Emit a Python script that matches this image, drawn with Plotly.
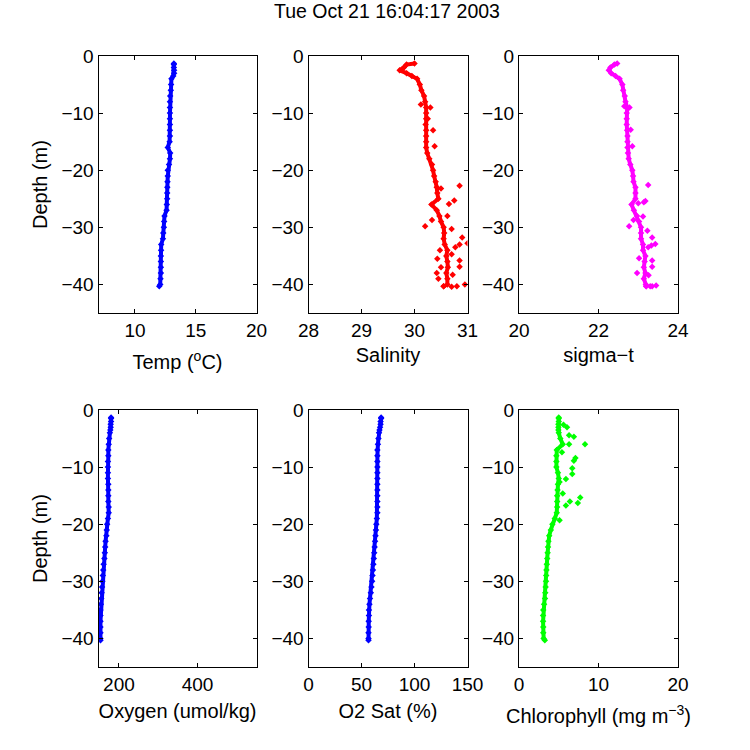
import plotly.graph_objects as go

TITLE = "Tue Oct 21 16:04:17 2003"
DEPTH = [-1.3, -1.5, -2, -2.5, -3, -3.5, -4, -5, -6, -7, -8, -9, -10, -11, -12, -13, -14, -15, -16, -17, -18, -19, -20,
         -21, -22, -23, -24, -25, -26, -27, -28, -29, -30, -31, -32, -33, -34, -35, -36, -37, -38, -39, -40, -40.3]

TEMP = [13.2, 13.2, 13.2, 13.22, 13.22, 13.15, 13.0, 12.97, 12.95, 12.9, 12.88, 12.88, 12.88, 12.88, 12.88, 12.88, 12.88, 12.85,
        12.7, 12.9, 12.88, 12.8, 12.7, 12.7, 12.68, 12.66, 12.65, 12.65, 12.62, 12.6, 12.43, 12.4, 12.38, 12.33, 12.3, 12.16,
        12.15, 12.13, 12.13, 12.13, 12.13, 12.1, 12.08, 12.0]
SALINITY = [30.0, 29.85, 29.8, 29.72, 29.85, 29.95, 30.05, 30.1, 30.13, 30.18, 30.2, 30.22, 30.22, 30.22, 30.21, 30.22, 30.22,
            30.22, 30.22, 30.24, 30.28, 30.33, 30.35, 30.37, 30.4, 30.42, 30.43, 30.45, 30.32, 30.42, 30.47, 30.5, 30.55,
            30.56, 30.55, 30.57, 30.62, 30.6, 30.62, 30.63, 30.6, 30.62, 30.62, 30.55]
SIGMA = [22.47, 22.4, 22.3, 22.26, 22.32, 22.43, 22.53, 22.6, 22.62, 22.66, 22.68, 22.72, 22.71, 22.71, 22.71, 22.72, 22.73,
         22.73, 22.73, 22.74, 22.76, 22.8, 22.85, 22.87, 22.88, 22.93, 22.93, 22.93, 22.83, 22.89, 22.97, 23.02, 23.07,
         23.07, 23.07, 23.12, 23.12, 23.18, 23.16, 23.14, 23.18, 23.14, 23.19, 23.2]
OXYGEN = [180, 180, 180, 179, 179, 178, 177, 175, 174, 173, 173, 172, 172, 172, 172, 173, 173, 173, 173, 174, 174, 172, 170,
          169, 168, 166, 165, 164, 163, 161, 160, 159, 158, 157, 156, 155, 154, 153, 153, 153, 153, 153, 153, 153]
O2SAT = [68.5, 68.5, 68, 68, 67.5, 67, 66.5, 66, 65.5, 65, 65, 65, 65, 65, 65, 65, 65, 65, 65, 65, 65, 64.5, 64, 63.6, 63.2,
         62.8, 62.4, 62, 61.6, 61.2, 60.8, 60.4, 60, 59.4, 58.8, 58, 57.5, 57, 57, 56.8, 56.8, 56.6, 56.6, 56.6]
CHL = [5.0, 5.0, 5.0, 4.95, 4.95, 4.95, 5.0, 5.2, 5.5, 4.75, 4.7, 4.7, 4.7, 4.9, 5.0, 4.9, 4.85, 4.8, 4.8, 4.8, 4.75, 4.5, 4.2,
       4.0, 3.8, 3.7, 3.65, 3.6, 3.55, 3.5, 3.45, 3.42, 3.4, 3.35, 3.3, 3.27, 3.15, 3.05, 3.03, 3.03, 3.05, 3.05, 3.1, 3.25]

SAL_OUT_DEPTH = [-22.7, -25.3, -25.9, -23.2, -29.8, -28.7, -28, -30.3, -31.8, -32.8, -33, -33.5, -34, -34.7, -35.5, -35.8,
                 -36.9, -37, -38, -38.3, -39, -40.3, -40.4, -40.3, -40, -13, -15.8, -9, -8.5, -11]
SAL_OUT = [30.85, 30.75, 30.65, 30.5, 30.2, 30.33, 30.62, 30.7, 30.9, 31.0, 30.85, 30.77, 30.48, 30.7, 30.43, 30.85,
           30.85, 30.5, 30.42, 30.72, 30.45, 30.55, 30.7, 30.8, 30.95, 30.35, 30.38, 30.3, 30.12, 30.25]
SIG_OUT_DEPTH = [-22.6, -25.4, -25.6, -25.8, -29.8, -28.7, -28.1, -30.6, -31.8, -32.9, -33.2, -33.5, -35.4, -35.8, -36.9,
                 -38, -38.4, -12.9, -15.8, -9, -8.8, -40.3, -40.3, -40.3, -40.2]
SIG_OUT = [23.25, 23.18, 23.14, 23.0, 22.77, 22.88, 23.12, 23.23, 23.35, 23.43, 23.33, 23.25, 23.02, 23.35, 23.35,
           22.97, 23.26, 22.81, 22.85, 22.78, 22.65, 23.2, 23.3, 23.35, 23.45]
CHL_OUT_DEPTH = [-3, -2.6, -4.4, -4.7, -6, -6, -7.4, -8.4, -8.9, -10.2, -11.2, -12.1, -12.6, -14.6, -15.3, -16, -16.3, -16.7, -19.3]
CHL_OUT = [6.04, 5.6, 6.3, 6.9, 6.3, 8.3, 5.4, 7.1, 6.9, 6.7, 6.7, 5.9, 5.1, 5.5, 7.7, 6.4, 7.4, 5.9, 5.1]

PANELS = [
    dict(v=TEMP, c="#0000ff", xr=[7, 20], tv=[10, 15, 20], t="Temp (<sup>o</sup>C)", od=[], ov=[], so=15),
    dict(v=SALINITY, c="#ff0000", xr=[28, 31], tv=[28, 29, 30, 31], t="Salinity", od=SAL_OUT_DEPTH, ov=SAL_OUT, so=8),
    dict(v=SIGMA, c="#ff00ff", xr=[20, 24], tv=[20, 22, 24], t="sigma−t", od=SIG_OUT_DEPTH, ov=SIG_OUT, so=8),
    dict(v=OXYGEN, c="#0000ff", xr=[148, 550], tv=[200, 400], t="Oxygen (umol/kg)", od=[], ov=[], so=10),
    dict(v=O2SAT, c="#0000ff", xr=[0, 150], tv=[0, 50, 100, 150], t="O2 Sat (%)", od=[], ov=[], so=10),
    dict(v=CHL, c="#00ff00", xr=[0, 20], tv=[0, 10, 20], t="Chlorophyll (mg m<sup>−3</sup>)", od=CHL_OUT_DEPTH, ov=CHL_OUT, so=15),
]

W = 750.0
COLS = [(98.5, 256.5), (308.5, 467.5), (519, 678)]
ROWS = [(56, 313), (410, 667)]
FONT = "Liberation Sans, Arial, sans-serif"

fig = go.Figure()
layout = {}
for i, p in enumerate(PANELS):
    n = "" if i == 0 else str(i + 1)
    col, row = COLS[i % 3], ROWS[i // 3]
    fig.add_trace(go.Scatter(x=p["v"], y=DEPTH, xaxis="x" + n, yaxis="y" + n, mode="lines+markers",
                             line=dict(color=p["c"], width=4),
                             marker=dict(symbol="diamond", size=5, color=p["c"]), showlegend=False))
    if p["od"]:
        fig.add_trace(go.Scatter(x=p["ov"], y=p["od"], xaxis="x" + n, yaxis="y" + n, mode="markers",
                                 marker=dict(symbol="diamond", size=5, color=p["c"]), showlegend=False))
    common = dict(showgrid=False, zeroline=False, showline=True, linecolor="black", linewidth=1, mirror="ticks",
                  ticks="inside", ticklen=4, tickcolor="black", automargin=False,
                  tickfont=dict(family=FONT, size=19, color="black"))
    layout["xaxis" + n] = dict(domain=[col[0] / W, col[1] / W], range=p["xr"], tickvals=p["tv"], anchor="y" + n,
                               title=dict(text=p["t"], font=dict(family=FONT, size=20, color="black"), standoff=p["so"]),
                               **common)
    ytitle = dict(text="Depth (m)", font=dict(family=FONT, size=20, color="black"), standoff=8) if i % 3 == 0 else None
    layout["yaxis" + n] = dict(domain=[1 - row[1] / W, 1 - row[0] / W], range=[-45, 0], tickvals=[0, -10, -20, -30, -40],
                               anchor="x" + n, title=ytitle, **common)

fig.update_layout(width=750, height=750, margin=dict(l=0, r=0, t=0, b=0), paper_bgcolor="white", plot_bgcolor="white",
                  title=dict(text=TITLE, x=387 / W, xanchor="center", y=1 - 11 / W, yanchor="middle",
                             font=dict(family=FONT, size=19.5, color="black")),
                  **layout)
fig.write_html("out.html", config={"displayModeBar": False}, post_script="document.body.style.margin='0';")
